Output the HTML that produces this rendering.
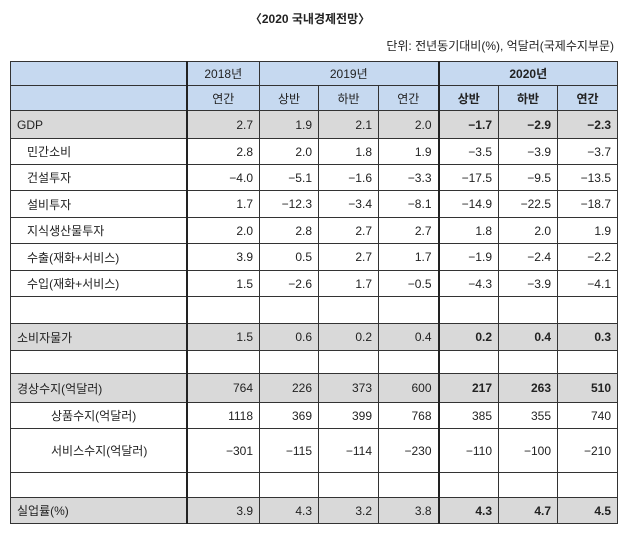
<!DOCTYPE html>
<html><head><meta charset="utf-8"><style>
body{margin:0;background:#fff;width:620px;height:536px;overflow:hidden;font-family:"Liberation Sans","Noto Sans CJK KR",sans-serif;color:#222;}
.t{position:absolute;left:0;top:10px;width:620px;text-align:center;font-size:12px;font-weight:bold;}
.u{position:absolute;right:6px;top:37px;font-size:12px;}
table{position:absolute;left:10px;top:61px;border-collapse:collapse;table-layout:fixed;font-size:12px;}
td{border:1px solid #333;padding:0 6px;text-align:right;white-space:nowrap;}
td:first-child{text-align:left;padding-left:6px;}
.h td{background:#c6d9f0;text-align:center;}
.g td{background:#d9d9d9;}
.b{font-weight:bold;}
.L{border-left:2px solid #222;}
.i1{padding-left:16px !important;}
.i2{padding-left:40px !important;}
</style></head><body>
<div class="t">〈2020 국내경제전망〉</div>
<div class="u">단위: 전년동기대비(%), 억달러(국제수지부문)</div>
<table>
<colgroup><col style="width:176px"><col style="width:73px"><col style="width:59px"><col style="width:60px"><col style="width:60px"><col style="width:60px"><col style="width:59px"><col style="width:60px"></colgroup>
<tr class="h" style="height:24px"><td></td><td class="L">2018년</td><td colspan="3">2019년</td><td colspan="3" class="L b">2020년</td></tr>
<tr class="h" style="height:25px"><td></td><td class="L">연간</td><td>상반</td><td>하반</td><td>연간</td><td class="L b">상반</td><td class="b">하반</td><td class="b">연간</td></tr>
<tr class="g" style="height:28px"><td>GDP</td><td class="L">2.7</td><td>1.9</td><td>2.1</td><td>2.0</td><td class="L b">−1.7</td><td class="b">−2.9</td><td class="b">−2.3</td></tr>
<tr style="height:26px"><td class="i1">민간소비</td><td class="L">2.8</td><td>2.0</td><td>1.8</td><td>1.9</td><td class="L">−3.5</td><td>−3.9</td><td>−3.7</td></tr>
<tr style="height:26px"><td class="i1">건설투자</td><td class="L">−4.0</td><td>−5.1</td><td>−1.6</td><td>−3.3</td><td class="L">−17.5</td><td>−9.5</td><td>−13.5</td></tr>
<tr style="height:27px"><td class="i1">설비투자</td><td class="L">1.7</td><td>−12.3</td><td>−3.4</td><td>−8.1</td><td class="L">−14.9</td><td>−22.5</td><td>−18.7</td></tr>
<tr style="height:26px"><td class="i1">지식생산물투자</td><td class="L">2.0</td><td>2.8</td><td>2.7</td><td>2.7</td><td class="L">1.8</td><td>2.0</td><td>1.9</td></tr>
<tr style="height:27px"><td class="i1">수출(재화+서비스)</td><td class="L">3.9</td><td>0.5</td><td>2.7</td><td>1.7</td><td class="L">−1.9</td><td>−2.4</td><td>−2.2</td></tr>
<tr style="height:26px"><td class="i1">수입(재화+서비스)</td><td class="L">1.5</td><td>−2.6</td><td>1.7</td><td>−0.5</td><td class="L">−4.3</td><td>−3.9</td><td>−4.1</td></tr>
<tr style="height:27px"><td></td><td class="L"></td><td></td><td></td><td></td><td class="L"></td><td></td><td></td></tr>
<tr class="g" style="height:27px"><td>소비자물가</td><td class="L">1.5</td><td>0.6</td><td>0.2</td><td>0.4</td><td class="L b">0.2</td><td class="b">0.4</td><td class="b">0.3</td></tr>
<tr style="height:23px"><td></td><td class="L"></td><td></td><td></td><td></td><td class="L"></td><td></td><td></td></tr>
<tr class="g" style="height:29px"><td>경상수지(억달러)</td><td class="L">764</td><td>226</td><td>373</td><td>600</td><td class="L b">217</td><td class="b">263</td><td class="b">510</td></tr>
<tr style="height:26px"><td class="i2">상품수지(억달러)</td><td class="L">1118</td><td>369</td><td>399</td><td>768</td><td class="L">385</td><td>355</td><td>740</td></tr>
<tr style="height:44px"><td class="i2">서비스수지(억달러)</td><td class="L">−301</td><td>−115</td><td>−114</td><td>−230</td><td class="L">−110</td><td>−100</td><td>−210</td></tr>
<tr style="height:25px"><td></td><td class="L"></td><td></td><td></td><td></td><td class="L"></td><td></td><td></td></tr>
<tr class="g" style="height:26px"><td>실업률(%)</td><td class="L">3.9</td><td>4.3</td><td>3.2</td><td>3.8</td><td class="L b">4.3</td><td class="b">4.7</td><td class="b">4.5</td></tr>
</table>
</body></html>
